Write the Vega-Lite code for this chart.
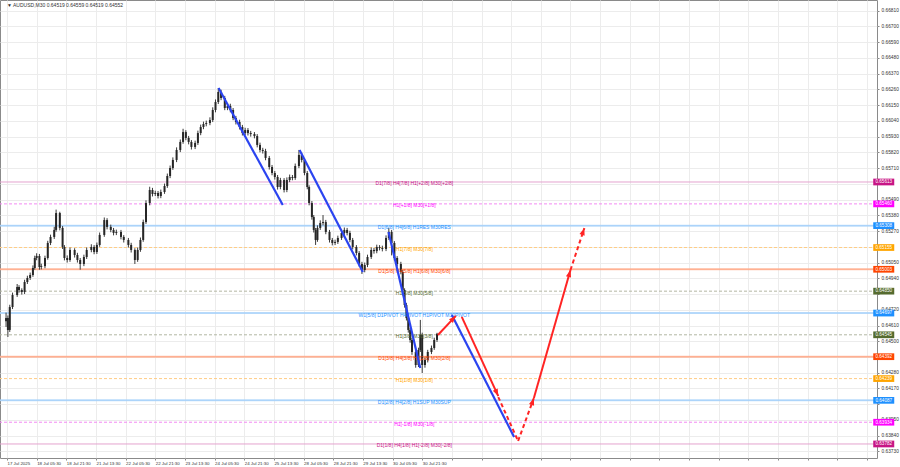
{
  "$schema": "https://vega.github.io/schema/vega-lite/v6.json",
  "width": 877,
  "height": 458,
  "autosize": {"type": "none"},
  "padding": {"left": 0, "top": 0, "right": 23, "bottom": 9},
  "background": "white",
  "config": {
    "view": {"stroke": "#8a8a8a", "strokeWidth": 1},
    "font": "Liberation Sans",
    "axis": {"labelFont": "Liberation Sans", "domain": false, "labelOverlap": false, "labelFlush": false, "labelBound": false, "gridColor": "#ececec", "gridWidth": 1, "tickColor": "#888888", "labelColor": "#333333"}
  },
  "datasets": {
    "candles": [
      {"i":-1,"o":0.64640,"h":0.64700,"l":0.64600,"c":0.64662},
      {"i":1,"o":0.64662,"h":0.64680,"l":0.64530,"c":0.64579},
      {"i":3,"o":0.64579,"h":0.64755,"l":0.64565,"c":0.64739},
      {"i":6,"o":0.64739,"h":0.64840,"l":0.64725,"c":0.64823},
      {"i":11,"o":0.64823,"h":0.64900,"l":0.64810,"c":0.64879},
      {"i":13,"o":0.64879,"h":0.64892,"l":0.64840,"c":0.64858},
      {"i":16,"o":0.64858,"h":0.64870,"l":0.64826,"c":0.64844},
      {"i":19,"o":0.64844,"h":0.64930,"l":0.64830,"c":0.64914},
      {"i":22,"o":0.64914,"h":0.64958,"l":0.64900,"c":0.64942},
      {"i":25,"o":0.64942,"h":0.64980,"l":0.64928,"c":0.64963},
      {"i":28,"o":0.64963,"h":0.65030,"l":0.64950,"c":0.65012},
      {"i":30,"o":0.65012,"h":0.65098,"l":0.65000,"c":0.65082},
      {"i":32,"o":0.65082,"h":0.65115,"l":0.65066,"c":0.65096},
      {"i":35,"o":0.65096,"h":0.65110,"l":0.65000,"c":0.65019},
      {"i":37,"o":0.65019,"h":0.65042,"l":0.65002,"c":0.65025},
      {"i":41,"o":0.65025,"h":0.65098,"l":0.65010,"c":0.65082},
      {"i":44,"o":0.65082,"h":0.65202,"l":0.65070,"c":0.65187},
      {"i":47,"o":0.65187,"h":0.65245,"l":0.65172,"c":0.65229},
      {"i":51,"o":0.65229,"h":0.65300,"l":0.65215,"c":0.65278},
      {"i":53,"o":0.65278,"h":0.65420,"l":0.65265,"c":0.65396},
      {"i":57,"o":0.65396,"h":0.65405,"l":0.65275,"c":0.65292},
      {"i":60,"o":0.65292,"h":0.65305,"l":0.65145,"c":0.65159},
      {"i":62,"o":0.65159,"h":0.65172,"l":0.65065,"c":0.65082},
      {"i":65,"o":0.65082,"h":0.65100,"l":0.65050,"c":0.65068},
      {"i":68,"o":0.65068,"h":0.65155,"l":0.65055,"c":0.65138},
      {"i":73,"o":0.65138,"h":0.65150,"l":0.65085,"c":0.65103},
      {"i":76,"o":0.65103,"h":0.65118,"l":0.65050,"c":0.65068},
      {"i":79,"o":0.65068,"h":0.65082,"l":0.65000,"c":0.65040},
      {"i":83,"o":0.65040,"h":0.65105,"l":0.65025,"c":0.65089},
      {"i":86,"o":0.65089,"h":0.65155,"l":0.65075,"c":0.65138},
      {"i":91,"o":0.65138,"h":0.65178,"l":0.65122,"c":0.65159},
      {"i":94,"o":0.65159,"h":0.65172,"l":0.65108,"c":0.65124},
      {"i":97,"o":0.65124,"h":0.65190,"l":0.65110,"c":0.65173},
      {"i":100,"o":0.65173,"h":0.65260,"l":0.65160,"c":0.65243},
      {"i":105,"o":0.65243,"h":0.65365,"l":0.65230,"c":0.65347},
      {"i":108,"o":0.65347,"h":0.65360,"l":0.65282,"c":0.65299},
      {"i":112,"o":0.65299,"h":0.65315,"l":0.65262,"c":0.65278},
      {"i":115,"o":0.65278,"h":0.65292,"l":0.65240,"c":0.65257},
      {"i":118,"o":0.65257,"h":0.65280,"l":0.65242,"c":0.65264},
      {"i":123,"o":0.65264,"h":0.65278,"l":0.65212,"c":0.65229},
      {"i":126,"o":0.65229,"h":0.65242,"l":0.65190,"c":0.65208},
      {"i":131,"o":0.65208,"h":0.65222,"l":0.65155,"c":0.65173},
      {"i":134,"o":0.65173,"h":0.65188,"l":0.65120,"c":0.65138},
      {"i":138,"o":0.65138,"h":0.65150,"l":0.65040,"c":0.65068},
      {"i":141,"o":0.65068,"h":0.65155,"l":0.65055,"c":0.65138},
      {"i":144,"o":0.65138,"h":0.65225,"l":0.65125,"c":0.65208},
      {"i":147,"o":0.65208,"h":0.65350,"l":0.65195,"c":0.65333},
      {"i":150,"o":0.65333,"h":0.65485,"l":0.65320,"c":0.65466},
      {"i":154,"o":0.65466,"h":0.65580,"l":0.65450,"c":0.65557},
      {"i":157,"o":0.65557,"h":0.65572,"l":0.65512,"c":0.65529},
      {"i":160,"o":0.65529,"h":0.65552,"l":0.65515,"c":0.65536},
      {"i":163,"o":0.65536,"h":0.65550,"l":0.65498,"c":0.65515},
      {"i":166,"o":0.65515,"h":0.65560,"l":0.65500,"c":0.65543},
      {"i":170,"o":0.65543,"h":0.65602,"l":0.65530,"c":0.65585},
      {"i":173,"o":0.65585,"h":0.65672,"l":0.65572,"c":0.65655},
      {"i":176,"o":0.65655,"h":0.65728,"l":0.65640,"c":0.65711},
      {"i":179,"o":0.65711,"h":0.65785,"l":0.65698,"c":0.65767},
      {"i":183,"o":0.65767,"h":0.65855,"l":0.65752,"c":0.65837},
      {"i":187,"o":0.65837,"h":0.65910,"l":0.65822,"c":0.65893},
      {"i":190,"o":0.65893,"h":0.65985,"l":0.65880,"c":0.65962},
      {"i":193,"o":0.65962,"h":0.65975,"l":0.65905,"c":0.65921},
      {"i":196,"o":0.65921,"h":0.65935,"l":0.65876,"c":0.65893},
      {"i":199,"o":0.65893,"h":0.65906,"l":0.65840,"c":0.65858},
      {"i":203,"o":0.65858,"h":0.65902,"l":0.65843,"c":0.65886},
      {"i":206,"o":0.65886,"h":0.65972,"l":0.65872,"c":0.65955},
      {"i":209,"o":0.65955,"h":0.66014,"l":0.65940,"c":0.65997},
      {"i":212,"o":0.65997,"h":0.66035,"l":0.65982,"c":0.66018},
      {"i":215,"o":0.66018,"h":0.66042,"l":0.66002,"c":0.66025},
      {"i":219,"o":0.66025,"h":0.66065,"l":0.66010,"c":0.66046},
      {"i":222,"o":0.66046,"h":0.66135,"l":0.66032,"c":0.66116},
      {"i":225,"o":0.66116,"h":0.66190,"l":0.66100,"c":0.66172},
      {"i":228,"o":0.66172,"h":0.66270,"l":0.66158,"c":0.66242},
      {"i":231,"o":0.66242,"h":0.66258,"l":0.66185,"c":0.66200},
      {"i":235,"o":0.66200,"h":0.66215,"l":0.66115,"c":0.66130},
      {"i":238,"o":0.66130,"h":0.66162,"l":0.66115,"c":0.66144},
      {"i":241,"o":0.66144,"h":0.66160,"l":0.66100,"c":0.66116},
      {"i":244,"o":0.66116,"h":0.66130,"l":0.66045,"c":0.66060},
      {"i":247,"o":0.66060,"h":0.66075,"l":0.66015,"c":0.66032},
      {"i":251,"o":0.66032,"h":0.66048,"l":0.65980,"c":0.65997},
      {"i":254,"o":0.65997,"h":0.66012,"l":0.65938,"c":0.65955},
      {"i":257,"o":0.65955,"h":0.65992,"l":0.65940,"c":0.65976},
      {"i":260,"o":0.65976,"h":0.65990,"l":0.65938,"c":0.65955},
      {"i":263,"o":0.65955,"h":0.65970,"l":0.65930,"c":0.65948},
      {"i":267,"o":0.65948,"h":0.65962,"l":0.65918,"c":0.65934},
      {"i":270,"o":0.65934,"h":0.65948,"l":0.65855,"c":0.65872},
      {"i":273,"o":0.65872,"h":0.65888,"l":0.65820,"c":0.65837},
      {"i":276,"o":0.65837,"h":0.65852,"l":0.65812,"c":0.65830},
      {"i":279,"o":0.65830,"h":0.65845,"l":0.65765,"c":0.65781},
      {"i":283,"o":0.65781,"h":0.65795,"l":0.65700,"c":0.65718},
      {"i":286,"o":0.65718,"h":0.65732,"l":0.65660,"c":0.65676},
      {"i":289,"o":0.65676,"h":0.65690,"l":0.65630,"c":0.65648},
      {"i":292,"o":0.65648,"h":0.65662,"l":0.65560,"c":0.65578},
      {"i":295,"o":0.65578,"h":0.65642,"l":0.65562,"c":0.65627},
      {"i":299,"o":0.65627,"h":0.65640,"l":0.65540,"c":0.65557},
      {"i":302,"o":0.65557,"h":0.65645,"l":0.65542,"c":0.65627},
      {"i":305,"o":0.65627,"h":0.65665,"l":0.65612,"c":0.65648},
      {"i":308,"o":0.65648,"h":0.65662,"l":0.65625,"c":0.65641},
      {"i":311,"o":0.65641,"h":0.65742,"l":0.65628,"c":0.65725},
      {"i":315,"o":0.65725,"h":0.65837,"l":0.65710,"c":0.65802},
      {"i":318,"o":0.65802,"h":0.65818,"l":0.65750,"c":0.65767},
      {"i":321,"o":0.65767,"h":0.65780,"l":0.65660,"c":0.65676},
      {"i":324,"o":0.65676,"h":0.65690,"l":0.65562,"c":0.65578},
      {"i":326,"o":0.65578,"h":0.65590,"l":0.65450,"c":0.65466},
      {"i":329,"o":0.65466,"h":0.65480,"l":0.65350,"c":0.65368},
      {"i":331,"o":0.65368,"h":0.65382,"l":0.65260,"c":0.65278},
      {"i":333,"o":0.65278,"h":0.65292,"l":0.65173,"c":0.65208},
      {"i":335,"o":0.65208,"h":0.65310,"l":0.65195,"c":0.65292},
      {"i":338,"o":0.65292,"h":0.65345,"l":0.65278,"c":0.65326},
      {"i":341,"o":0.65326,"h":0.65382,"l":0.65310,"c":0.65333},
      {"i":344,"o":0.65333,"h":0.65348,"l":0.65248,"c":0.65264},
      {"i":348,"o":0.65264,"h":0.65278,"l":0.65190,"c":0.65208},
      {"i":351,"o":0.65208,"h":0.65222,"l":0.65170,"c":0.65187},
      {"i":354,"o":0.65187,"h":0.65210,"l":0.65172,"c":0.65194},
      {"i":357,"o":0.65194,"h":0.65238,"l":0.65180,"c":0.65222},
      {"i":361,"o":0.65222,"h":0.65275,"l":0.65208,"c":0.65257},
      {"i":364,"o":0.65257,"h":0.65295,"l":0.65242,"c":0.65278},
      {"i":367,"o":0.65278,"h":0.65292,"l":0.65240,"c":0.65257},
      {"i":370,"o":0.65257,"h":0.65272,"l":0.65192,"c":0.65208},
      {"i":373,"o":0.65208,"h":0.65222,"l":0.65142,"c":0.65159},
      {"i":377,"o":0.65159,"h":0.65172,"l":0.65100,"c":0.65117},
      {"i":380,"o":0.65117,"h":0.65130,"l":0.65022,"c":0.65040},
      {"i":383,"o":0.65040,"h":0.65055,"l":0.64970,"c":0.64998},
      {"i":386,"o":0.64998,"h":0.65050,"l":0.64982,"c":0.65033},
      {"i":389,"o":0.65033,"h":0.65105,"l":0.65018,"c":0.65089},
      {"i":393,"o":0.65089,"h":0.65155,"l":0.65075,"c":0.65138},
      {"i":396,"o":0.65138,"h":0.65152,"l":0.65112,"c":0.65130},
      {"i":399,"o":0.65130,"h":0.65175,"l":0.65115,"c":0.65159},
      {"i":402,"o":0.65159,"h":0.65172,"l":0.65135,"c":0.65152},
      {"i":405,"o":0.65152,"h":0.65168,"l":0.65128,"c":0.65145},
      {"i":409,"o":0.65145,"h":0.65240,"l":0.65130,"c":0.65222},
      {"i":412,"o":0.65222,"h":0.65292,"l":0.65208,"c":0.65264},
      {"i":415,"o":0.65264,"h":0.65278,"l":0.65100,"c":0.65187},
      {"i":418,"o":0.65187,"h":0.65200,"l":0.65065,"c":0.65082},
      {"i":421,"o":0.65082,"h":0.65095,"l":0.65022,"c":0.65040},
      {"i":425,"o":0.65040,"h":0.65055,"l":0.64968,"c":0.64984},
      {"i":427,"o":0.64984,"h":0.64998,"l":0.64840,"c":0.64858},
      {"i":429,"o":0.64858,"h":0.64870,"l":0.64735,"c":0.64753},
      {"i":431,"o":0.64753,"h":0.64768,"l":0.64645,"c":0.64662},
      {"i":433,"o":0.64662,"h":0.64675,"l":0.64560,"c":0.64579},
      {"i":435,"o":0.64579,"h":0.64592,"l":0.64490,"c":0.64509},
      {"i":437,"o":0.64509,"h":0.64522,"l":0.64405,"c":0.64425},
      {"i":441,"o":0.64425,"h":0.64440,"l":0.64315,"c":0.64334},
      {"i":444,"o":0.64334,"h":0.64455,"l":0.64320,"c":0.64439},
      {"i":446,"o":0.64439,"h":0.64649,"l":0.64425,"c":0.64544},
      {"i":448,"o":0.64544,"h":0.64560,"l":0.64278,"c":0.64334},
      {"i":451,"o":0.64334,"h":0.64385,"l":0.64315,"c":0.64369},
      {"i":454,"o":0.64369,"h":0.64440,"l":0.64352,"c":0.64425},
      {"i":458,"o":0.64425,"h":0.64470,"l":0.64410,"c":0.64453},
      {"i":461,"o":0.64453,"h":0.64525,"l":0.64440,"c":0.64509},
      {"i":464,"o":0.64509,"h":0.64559,"l":0.64495,"c":0.64552}
    ],
    "levels": [
      {"name":"D1[7/8] H4[7/8] H1[+2/8] M30[+2/8]","price":0.65613,"group":"D1 outer"},
      {"name":"H1[+1/8] M30[+1/8]","price":0.65460,"group":"H1 extreme"},
      {"name":"D1[6/8] H4[6/8] H1RES M30RES","price":0.65308,"group":"key"},
      {"name":"H1[7/8] M30[7/8]","price":0.65155,"group":"H1 weak"},
      {"name":"D1[5/8] H4[5/8] H1[6/8] M30[6/8]","price":0.65003,"group":"D1 mid"},
      {"name":"H1[5/8] M30[5/8]","price":0.64850,"group":"H1 minor"},
      {"name":"W1[5/8] D1PIVOT H4PIVOT H1PIVOT M30PIVOT","price":0.64697,"group":"key"},
      {"name":"H1[3/8] M30[3/8]","price":0.64545,"group":"H1 minor"},
      {"name":"D1[3/8] H4[3/8] H1[2/8] M30[2/8]","price":0.64392,"group":"D1 mid"},
      {"name":"H1[1/8] M30[1/8]","price":0.64239,"group":"H1 weak"},
      {"name":"D1[2/8] H4[2/8] H1SUP M30SUP","price":0.64087,"group":"key"},
      {"name":"H1[-1/8] M30[-1/8]","price":0.63934,"group":"H1 extreme"},
      {"name":"D1[1/8] H4[1/8] H1[-2/8] M30[-2/8]","price":0.63782,"group":"D1 outer"}
    ],
    "trend": [
      {"seg":"b1","kind":"blue","i":228.3,"p":0.66270},
      {"seg":"b1","kind":"blue","i":297.6,"p":0.65452},
      {"seg":"b2","kind":"blue","i":315.7,"p":0.65837},
      {"seg":"b2","kind":"blue","i":384.0,"p":0.64984},
      {"seg":"b3","kind":"blue","i":411.7,"p":0.65264},
      {"seg":"b3","kind":"blue","i":445.9,"p":0.64313},
      {"seg":"b4","kind":"blue","i":480.0,"p":0.64683},
      {"seg":"b4","kind":"blue","i":547.2,"p":0.63831},
      {"seg":"ra","kind":"red","i":465.0,"p":0.64544},
      {"seg":"ra","kind":"red","i":484.3,"p":0.64677},
      {"seg":"rb","kind":"red","i":490.7,"p":0.64670},
      {"seg":"rb","kind":"red","i":530.1,"p":0.64117},
      {"seg":"re","kind":"red","i":568.5,"p":0.64103},
      {"seg":"re","kind":"red","i":608.0,"p":0.64998},
      {"seg":"rc","kind":"redDash","i":530.1,"p":0.64110},
      {"seg":"rc","kind":"redDash","i":551.5,"p":0.63803},
      {"seg":"rd","kind":"redDash","i":551.5,"p":0.63803},
      {"seg":"rd","kind":"redDash","i":568.5,"p":0.64103},
      {"seg":"rf","kind":"redDash","i":608.0,"p":0.64998},
      {"seg":"rf","kind":"redDash","i":623.0,"p":0.65291}
    ],
    "heads": [
      {"seg":"ra","i":484.3,"p":0.64677},
      {"seg":"rb","i":530.1,"p":0.64117},
      {"seg":"rd","i":568.5,"p":0.64103},
      {"seg":"re","i":608.0,"p":0.64998},
      {"seg":"rf","i":623.0,"p":0.65291}
    ]
  },
  "layer": [
    {
      "data": {"name": "levels"},
      "mark": {"type": "rule", "strokeWidth": 1},
      "encoding": {
        "y": {"field": "price", "type": "quantitative", "title": null, "scale": {"domain": [0.63684, 0.66885], "nice": false, "zero": false},
              "axis": {"title": null, "orient": "right", "tickCount": 200, "values": [0.6373,0.6384,0.6395,0.6406,0.6417,0.6428,0.6439,0.645,0.6461,0.6472,0.6483,0.6494,0.6505,0.6516,0.6527,0.6538,0.6549,0.656,0.6571,0.6582,0.6593,0.6604,0.6615,0.6626,0.6637,0.6648,0.6659,0.667,0.6681],
                       "labelExpr": "(abs(datum.value - 0.656) < 0.000001 || abs(datum.value - 0.6516) < 0.000001 || abs(datum.value - 0.6483) < 0.000001 || abs(datum.value - 0.6439) < 0.000001 || abs(datum.value - 0.6406) < 0.000001) ? '' : format(datum.value, '.5f')",
                       "labelFontSize": 4.8, "labelPadding": 2, "tickSize": 2, "grid": true}},
        "stroke": {"field": "group", "type": "nominal", "legend": null,
                   "scale": {"domain": ["D1 outer","H1 extreme","key","H1 weak","D1 mid","H1 minor"], "range": ["#e4a3cf","#f38af3","#a8d2fa","#ffcd85","#ffab8c","#b3b7a3"]}},
        "strokeDash": {"field": "group", "type": "nominal", "legend": null,
                   "scale": {"domain": ["D1 outer","H1 extreme","key","H1 weak","D1 mid","H1 minor"], "range": [[1,0],[3,2],[1,0],[3,2],[1,0],[3,2]]}}
      }
    },
    {
      "data": {"name": "levels"},
      "transform": [{"filter": "datum.group === 'key' || datum.group === 'D1 mid'"}],
      "mark": {"type": "rule", "strokeWidth": 2, "opacity": 0.7},
      "encoding": {
        "y": {"field": "price", "type": "quantitative", "title": null, "scale": {"domain": [0.63684, 0.66885], "nice": false, "zero": false}},
        "stroke": {"field": "group", "type": "nominal", "legend": null}
      }
    },
    {
      "data": {"name": "candles"},
      "mark": {"type": "rule", "color": "#3a3a3a", "strokeWidth": 1},
      "encoding": {
        "x": {"field": "i", "type": "quantitative", "title": null, "scale": {"domain": [-2.13, 933.33], "nice": false, "zero": false},
              "axis": {"title": null, "tickCount": 200, "values": [0,32,64,96,128,160,192,224,256,288,320,352,384,416,448,480,512,544,576,608,640,672,704,736,768,800,832,864,896,928],
                       "labelExpr": "datum.value < 470 ? ['17 Jul 2025','18 Jul 05:30','18 Jul 21:30','21 Jul 13:30','22 Jul 05:30','22 Jul 21:30','23 Jul 13:30','24 Jul 05:30','24 Jul 21:30','25 Jul 13:30','28 Jul 05:30','28 Jul 21:30','29 Jul 13:30','30 Jul 05:30','30 Jul 21:30'][datum.value / 32] : ''",
                       "labelAlign": "left", "labelFontSize": 4.4, "labelPadding": 1, "tickSize": 2, "grid": true}},
        "y": {"field": "l", "type": "quantitative", "title": null, "scale": {"domain": [0.63684, 0.66885], "nice": false, "zero": false}},
        "y2": {"field": "h"}
      }
    },
    {
      "data": {"name": "candles"},
      "mark": {"type": "bar", "color": "#262626", "size": 2},
      "encoding": {
        "x": {"field": "i", "type": "quantitative", "title": null, "scale": {"domain": [-2.13, 933.33], "nice": false, "zero": false}},
        "y": {"field": "o", "type": "quantitative", "title": null, "scale": {"domain": [0.63684, 0.66885], "nice": false, "zero": false}},
        "y2": {"field": "c"}
      }
    },
    {
      "data": {"name": "levels"},
      "mark": {"type": "text", "fontSize": 5, "align": "center", "baseline": "middle", "dy": 1.5},
      "encoding": {
        "x": {"datum": 439.5, "type": "quantitative", "title": null, "scale": {"domain": [-2.13, 933.33], "nice": false, "zero": false}},
        "y": {"field": "price", "type": "quantitative", "title": null, "scale": {"domain": [0.63684, 0.66885], "nice": false, "zero": false}},
        "text": {"field": "name"},
        "fill": {"field": "group", "type": "nominal", "legend": null,
                 "scale": {"domain": ["D1 outer","H1 extreme","key","H1 weak","D1 mid","H1 minor"], "range": ["#c71585","#ff00ff","#1e90ff","#ffa500","#ff4500","#556b2f"]}}
      }
    },
    {
      "data": {"name": "trend"},
      "transform": [{"filter": "datum.kind === 'blue'"}],
      "mark": {"type": "line", "color": "#2b44f0", "strokeWidth": 2.2},
      "encoding": {
        "x": {"field": "i", "type": "quantitative", "title": null, "scale": {"domain": [-2.13, 933.33], "nice": false, "zero": false}},
        "y": {"field": "p", "type": "quantitative", "title": null, "scale": {"domain": [0.63684, 0.66885], "nice": false, "zero": false}},
        "detail": {"field": "seg"}
      }
    },
    {
      "data": {"name": "trend"},
      "transform": [{"filter": "datum.kind === 'red'"}],
      "mark": {"type": "line", "color": "#ff2424", "strokeWidth": 2},
      "encoding": {
        "x": {"field": "i", "type": "quantitative", "title": null, "scale": {"domain": [-2.13, 933.33], "nice": false, "zero": false}},
        "y": {"field": "p", "type": "quantitative", "title": null, "scale": {"domain": [0.63684, 0.66885], "nice": false, "zero": false}},
        "detail": {"field": "seg"}
      }
    },
    {
      "data": {"name": "trend"},
      "transform": [{"filter": "datum.kind === 'redDash'"}],
      "mark": {"type": "line", "color": "#ff2424", "strokeWidth": 2, "strokeDash": [4, 3]},
      "encoding": {
        "x": {"field": "i", "type": "quantitative", "title": null, "scale": {"domain": [-2.13, 933.33], "nice": false, "zero": false}},
        "y": {"field": "p", "type": "quantitative", "title": null, "scale": {"domain": [0.63684, 0.66885], "nice": false, "zero": false}},
        "detail": {"field": "seg"}
      }
    },
    {
      "data": {"name": "heads"},
      "transform": [{"filter": "datum.seg === 'ra'"}],
      "mark": {"type": "point", "shape": "M0,0L0.6,1.6L-0.6,1.6Z", "filled": true, "color": "#ff2424", "opacity": 1, "size": 80, "angle": 43},
      "encoding": {
        "x": {"field": "i", "type": "quantitative", "title": null, "scale": {"domain": [-2.13, 933.33], "nice": false, "zero": false}},
        "y": {"field": "p", "type": "quantitative", "title": null, "scale": {"domain": [0.63684, 0.66885], "nice": false, "zero": false}}
      }
    },
    {
      "data": {"name": "heads"},
      "transform": [{"filter": "datum.seg === 'rb'"}],
      "mark": {"type": "point", "shape": "M0,0L0.6,1.6L-0.6,1.6Z", "filled": true, "color": "#ff2424", "opacity": 1, "size": 80, "angle": 155},
      "encoding": {
        "x": {"field": "i", "type": "quantitative", "title": null, "scale": {"domain": [-2.13, 933.33], "nice": false, "zero": false}},
        "y": {"field": "p", "type": "quantitative", "title": null, "scale": {"domain": [0.63684, 0.66885], "nice": false, "zero": false}}
      }
    },
    {
      "data": {"name": "heads"},
      "transform": [{"filter": "datum.seg === 'rd' || datum.seg === 'rf'"}],
      "mark": {"type": "point", "shape": "M0,0L0.6,1.6L-0.6,1.6Z", "filled": true, "color": "#ff2424", "opacity": 1, "size": 80, "angle": 19},
      "encoding": {
        "x": {"field": "i", "type": "quantitative", "title": null, "scale": {"domain": [-2.13, 933.33], "nice": false, "zero": false}},
        "y": {"field": "p", "type": "quantitative", "title": null, "scale": {"domain": [0.63684, 0.66885], "nice": false, "zero": false}}
      }
    },
    {
      "data": {"name": "heads"},
      "transform": [{"filter": "datum.seg === 're'"}],
      "mark": {"type": "point", "shape": "M0,0L0.6,1.6L-0.6,1.6Z", "filled": true, "color": "#ff2424", "opacity": 1, "size": 80, "angle": 16},
      "encoding": {
        "x": {"field": "i", "type": "quantitative", "title": null, "scale": {"domain": [-2.13, 933.33], "nice": false, "zero": false}},
        "y": {"field": "p", "type": "quantitative", "title": null, "scale": {"domain": [0.63684, 0.66885], "nice": false, "zero": false}}
      }
    },
    {
      "data": {"name": "levels"},
      "mark": {"type": "point", "shape": "M-1,-0.32H1V0.32H-1Z", "filled": true, "opacity": 1, "size": 441},
      "encoding": {
        "x": {"datum": 946, "type": "quantitative", "title": null, "scale": {"domain": [-2.13, 933.33], "nice": false, "zero": false}},
        "y": {"field": "price", "type": "quantitative", "title": null, "scale": {"domain": [0.63684, 0.66885], "nice": false, "zero": false}},
        "fill": {"field": "group", "type": "nominal", "legend": null}
      }
    },
    {
      "data": {"name": "levels"},
      "mark": {"type": "text", "fontSize": 4.6, "align": "center", "baseline": "middle", "color": "white", "dy": 0.3},
      "encoding": {
        "x": {"datum": 946, "type": "quantitative", "title": null, "scale": {"domain": [-2.13, 933.33], "nice": false, "zero": false}},
        "y": {"field": "price", "type": "quantitative", "title": null, "scale": {"domain": [0.63684, 0.66885], "nice": false, "zero": false}},
        "text": {"field": "price", "type": "quantitative", "format": ".5f"}
      }
    },
    {
      "data": {"values": [{"label": "▼  AUDUSD,M30  0.64519 0.64559 0.64519 0.64552"}]},
      "mark": {"type": "text", "fontSize": 5, "align": "left", "baseline": "middle", "color": "#333333"},
      "encoding": {
        "x": {"datum": 0, "type": "quantitative", "title": null, "scale": {"domain": [-2.13, 933.33], "nice": false, "zero": false}},
        "y": {"datum": 0.66852, "type": "quantitative", "title": null, "scale": {"domain": [0.63684, 0.66885], "nice": false, "zero": false}},
        "text": {"field": "label"}
      }
    }
  ]
}
